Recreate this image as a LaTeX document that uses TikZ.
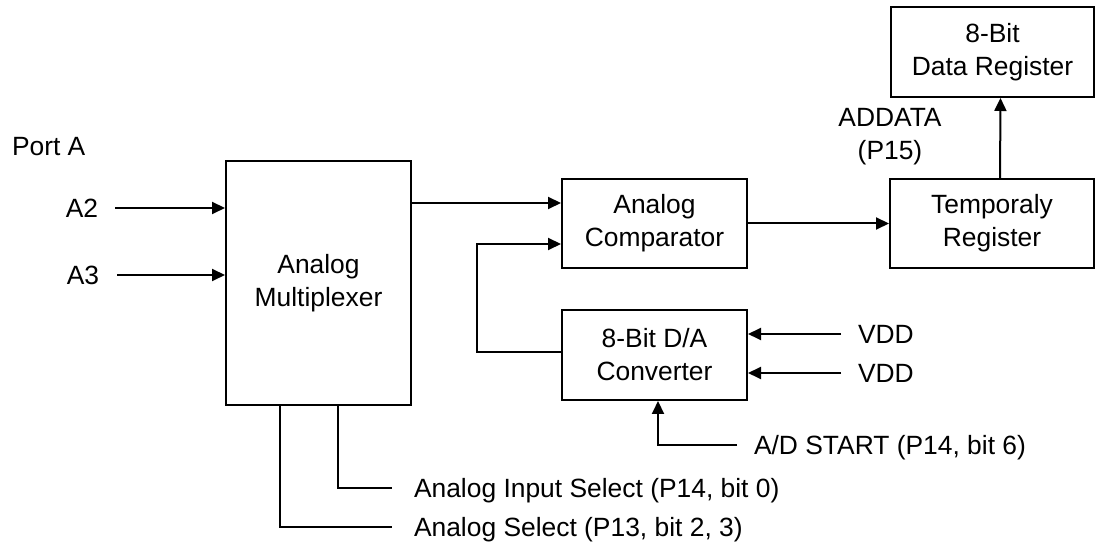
\documentclass[tikz,border=0pt]{standalone}
\usepackage{fontspec}
\setmainfont{Liberation Sans}
\usetikzlibrary{arrows.meta}
\begin{document}
\begin{tikzpicture}[x=0.5pt,y=-0.5pt,line width=1pt,
  font=\fontsize{13.2}{16.5}\selectfont,
  >={Triangle[length=6.5pt,width=6pt]},
  box/.style={draw,align=center,inner sep=0pt},
  lbl/.style={inner sep=0pt,text height=9.45pt,text depth=0pt}]
\useasboundingbox (0,0) rectangle (1096,544);
\node[box,minimum width=92.5pt,minimum height=122pt] (mux) at (318.5,283) {Analog\\Multiplexer};
\node[box,minimum width=92.5pt,minimum height=44.5pt] (comp) at (654.5,223.5) {Analog\\Comparator};
\node[box,minimum width=92.5pt,minimum height=45pt] (dac) at (654.5,355) {8-Bit D/A\\Converter};
\node[box,minimum width=102pt,minimum height=44.5pt] (temp) at (992,223.5) {Temporaly\\Register};
\node[box,minimum width=101.5pt,minimum height=45pt] (data) at (992.5,52) {8-Bit\\Data Register};
\node[align=center,inner sep=0pt] (addata) at (890,136.5) {ADDATA\\(P15)};
\node[lbl,anchor=west] (porta) at (11,146) {Port A};
\node[lbl] (a2) at (82,208) {A2};
\node[lbl] (a3) at (83,275) {A3};
\node[lbl,anchor=west] (vdd1) at (857,334) {VDD};
\node[lbl,anchor=west] (vdd2) at (857,373) {VDD};
\node[lbl,anchor=west] (start) at (753,445) {A/D START (P14, bit 6)};
\node[lbl,anchor=west] (insel) at (413,488) {Analog Input Select (P14, bit 0)};
\node[lbl,anchor=west] (asel) at (413,527) {Analog Select (P13, bit 2, 3)};
\draw[->] ([xshift=8pt]a2.east) -- (a2.east -| mux.west);
\draw[->] ([xshift=8.5pt]a3.east) -- (a3.east -| mux.west);
\draw[->] ([yshift=10.25pt]comp.west -| mux.east) -- ([yshift=10.25pt]comp.west);
\draw[->] ([yshift=1.5pt]dac.west) -- ++(-84,0) |- ([yshift=-10.25pt]comp.west);
\draw[->] (comp.east) -- (temp.west);
\draw[->] ([xshift=4pt]temp.north) -- ([xshift=4pt]data.south);
\draw[->] ([xshift=-8pt]vdd1.west) -- (vdd1.west -| dac.east);
\draw[->] ([xshift=-8pt]vdd2.west) -- (vdd2.west -| dac.east);
\draw[->] ([xshift=-8pt]start.west) -| ([xshift=1.75pt]dac.south);
\draw ([xshift=9.75pt]mux.south) |- ([xshift=-10.5pt]insel.west);
\draw ([xshift=-19.25pt]mux.south) |- ([xshift=-10.5pt]asel.west);
\end{tikzpicture}
\end{document}
